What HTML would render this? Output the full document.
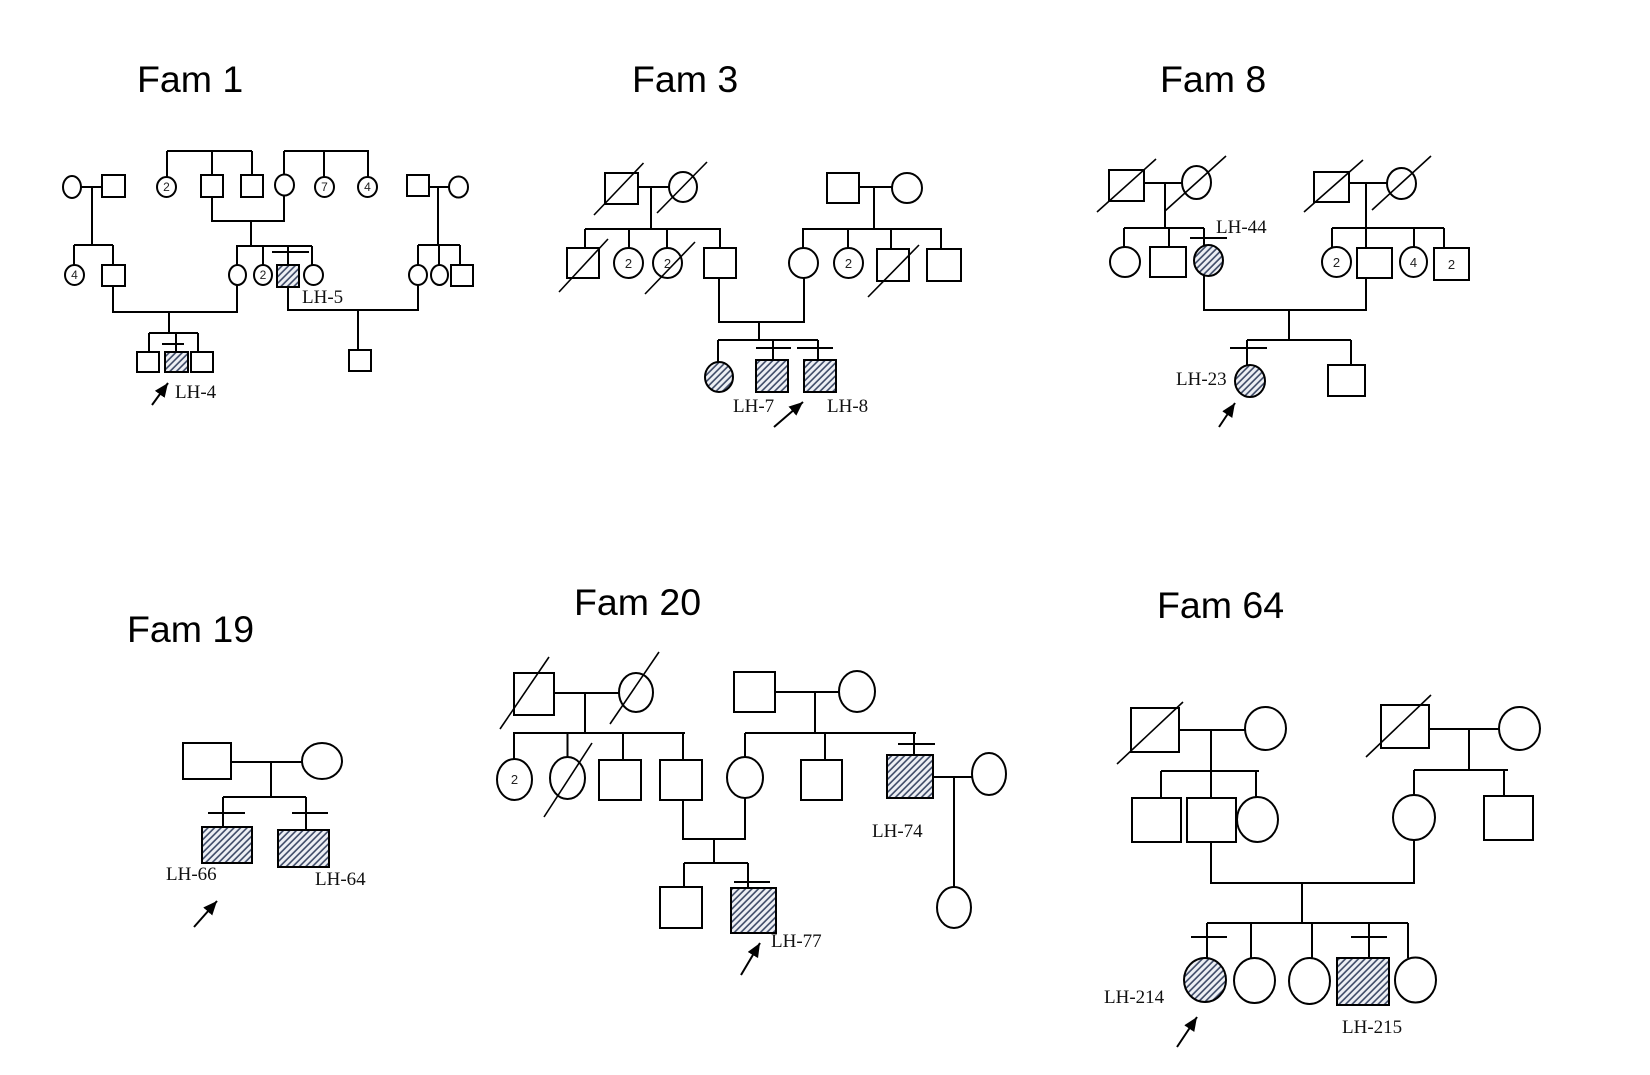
<!DOCTYPE html>
<html><head><meta charset="utf-8"><style>
html,body{margin:0;padding:0;background:#fff;}
svg{display:block;}
.t{font-family:"Liberation Sans",Arial,sans-serif;font-size:37.5px;fill:#000;}
.l{font-family:"Liberation Serif","Times New Roman",serif;font-size:19px;fill:#111;}
.n{font-family:"Liberation Sans",Arial,sans-serif;font-size:12px;fill:#222;text-anchor:middle;}
.n2{font-family:"Liberation Sans",Arial,sans-serif;font-size:13px;fill:#222;text-anchor:middle;}
</style></head><body>
<svg width="1650" height="1075" viewBox="0 0 1650 1075" xmlns="http://www.w3.org/2000/svg">
<defs>
<pattern id="h" patternUnits="userSpaceOnUse" width="4.6" height="4.6" patternTransform="rotate(45)">
<rect width="4.6" height="4.6" fill="#eef0f5"/>
<line x1="1" y1="0" x2="1" y2="4.6" stroke="#3b4865" stroke-width="1.6"/>
</pattern>
<marker id="a" markerUnits="userSpaceOnUse" markerWidth="16" markerHeight="14" refX="14" refY="6" orient="auto">
<path d="M0,0 L14,6 L0,12 Z" fill="#000"/>
</marker>
</defs>
<rect width="1650" height="1075" fill="#fff"/>

<!-- titles -->
<text class="t" x="137" y="92">Fam 1</text>
<text class="t" x="632" y="92">Fam 3</text>
<text class="t" x="1160" y="92">Fam 8</text>
<text class="t" x="127" y="642">Fam 19</text>
<text class="t" x="574" y="615">Fam 20</text>
<text class="t" x="1157" y="618">Fam 64</text>

<g stroke="#000" stroke-width="2" fill="none">
<!-- ================= FAM 1 ================= -->
<line x1="81" y1="187" x2="102" y2="187"/>
<line x1="92" y1="187" x2="92" y2="245"/>
<line x1="74" y1="245" x2="113" y2="245"/>
<line x1="74" y1="245" x2="74" y2="265"/>
<line x1="113" y1="245" x2="113" y2="265"/>
<line x1="167" y1="151" x2="252" y2="151"/>
<line x1="167" y1="151" x2="167" y2="177"/>
<line x1="212" y1="151" x2="212" y2="175"/>
<line x1="252" y1="151" x2="252" y2="175"/>
<line x1="284" y1="151" x2="369" y2="151"/>
<line x1="284" y1="151" x2="284" y2="175"/>
<line x1="324" y1="151" x2="324" y2="177"/>
<line x1="368" y1="151" x2="368" y2="177"/>
<polyline points="212,197 212,221 284,221 284,195"/>
<line x1="251" y1="221" x2="251" y2="246"/>
<line x1="236" y1="246" x2="312" y2="246"/>
<line x1="237" y1="246" x2="237" y2="265"/>
<line x1="263" y1="246" x2="263" y2="265"/>
<line x1="288" y1="246" x2="288" y2="265"/>
<line x1="312" y1="246" x2="312" y2="265"/>
<line x1="272" y1="252" x2="309" y2="252"/>
<line x1="429" y1="187" x2="449" y2="187"/>
<line x1="438" y1="187" x2="438" y2="245"/>
<line x1="418" y1="245" x2="460" y2="245"/>
<line x1="418" y1="245" x2="418" y2="265"/>
<line x1="439" y1="245" x2="439" y2="265"/>
<line x1="460" y1="245" x2="460" y2="265"/>
<polyline points="113,286 113,312 237,312 237,285"/>
<line x1="169" y1="312" x2="169" y2="333"/>
<line x1="149" y1="333" x2="198" y2="333"/>
<line x1="149" y1="333" x2="149" y2="352"/>
<line x1="176" y1="333" x2="176" y2="352"/>
<line x1="198" y1="333" x2="198" y2="352"/>
<line x1="162" y1="344" x2="184" y2="344"/>
<polyline points="288,287 288,310 418,310 418,285"/>
<line x1="358" y1="310" x2="358" y2="350"/>
<line x1="152" y1="405" x2="168" y2="383" marker-end="url(#a)"/>

<g fill="#fff">
<ellipse cx="72" cy="187" rx="9" ry="11"/>
<rect x="102" y="175" width="23" height="22"/>
<ellipse cx="74.5" cy="275" rx="9.5" ry="10"/>
<rect x="102" y="265" width="23" height="21"/>
<ellipse cx="166.5" cy="187" rx="9.5" ry="10"/>
<rect x="201" y="175" width="22" height="22"/>
<rect x="241" y="175" width="22" height="22"/>
<ellipse cx="284.5" cy="185" rx="9.5" ry="10.5"/>
<ellipse cx="324.5" cy="187" rx="9.5" ry="10"/>
<ellipse cx="367.5" cy="187" rx="9.5" ry="10"/>
<ellipse cx="237.5" cy="275" rx="8.5" ry="10"/>
<ellipse cx="263" cy="275" rx="9" ry="10"/>
<rect x="277" y="265" width="22" height="22" fill="url(#h)"/>
<ellipse cx="313.5" cy="275" rx="9.5" ry="10"/>
<rect x="407" y="175" width="22" height="21"/>
<ellipse cx="458.5" cy="187" rx="9.5" ry="10.5"/>
<ellipse cx="418" cy="275" rx="9" ry="10"/>
<ellipse cx="439.5" cy="275" rx="8.5" ry="10"/>
<rect x="451" y="265" width="22" height="21"/>
<rect x="137" y="352" width="22" height="20"/>
<rect x="165" y="352" width="23" height="20" fill="url(#h)"/>
<rect x="191" y="352" width="22" height="20"/>
<rect x="349" y="350" width="22" height="21"/>
</g>

<!-- ================= FAM 3 ================= -->
<line x1="638" y1="187" x2="669" y2="187"/>
<line x1="651" y1="187" x2="651" y2="229"/>
<line x1="585" y1="229" x2="721" y2="229"/>
<line x1="585" y1="229" x2="585" y2="248"/>
<line x1="629" y1="229" x2="629" y2="248"/>
<line x1="667" y1="229" x2="667" y2="248"/>
<line x1="720" y1="229" x2="720" y2="248"/>
<line x1="859" y1="187" x2="892" y2="187"/>
<line x1="874" y1="187" x2="874" y2="229"/>
<line x1="802" y1="229" x2="942" y2="229"/>
<line x1="803" y1="229" x2="803" y2="248"/>
<line x1="848" y1="229" x2="848" y2="248"/>
<line x1="891" y1="229" x2="891" y2="249"/>
<line x1="941" y1="229" x2="941" y2="249"/>
<polyline points="719,278 719,322 804,322 804,278"/>
<line x1="759" y1="322" x2="759" y2="340"/>
<line x1="718" y1="340" x2="818" y2="340"/>
<line x1="718" y1="340" x2="718" y2="362"/>
<line x1="773" y1="340" x2="773" y2="360"/>
<line x1="818" y1="340" x2="818" y2="360"/>
<line x1="756" y1="348" x2="791" y2="348"/>
<line x1="797" y1="348" x2="833" y2="348"/>
<line x1="774" y1="427" x2="803" y2="402" marker-end="url(#a)"/>

<g fill="#fff">
<rect x="605" y="173" width="33" height="31"/>
<ellipse cx="683" cy="187" rx="14" ry="15"/>
<rect x="567" y="248" width="32" height="30"/>
<ellipse cx="628.5" cy="263" rx="14.5" ry="15"/>
<ellipse cx="667.5" cy="263" rx="14.5" ry="15"/>
<rect x="704" y="248" width="32" height="30"/>
<rect x="827" y="173" width="32" height="30"/>
<ellipse cx="907" cy="188" rx="15" ry="15"/>
<ellipse cx="803.5" cy="263" rx="14.5" ry="15"/>
<ellipse cx="848.5" cy="263" rx="14.5" ry="15"/>
<rect x="877" y="249" width="32" height="32"/>
<rect x="927" y="249" width="34" height="32"/>
<ellipse cx="719" cy="377" rx="14" ry="15" fill="url(#h)"/>
<rect x="756" y="360" width="32" height="32" fill="url(#h)"/>
<rect x="804" y="360" width="32" height="32" fill="url(#h)"/>
</g>
<g stroke-width="1.6">
<line x1="594" y1="215" x2="643.5" y2="163"/>
<line x1="657" y1="213" x2="707" y2="162"/>
<line x1="559" y1="292" x2="608" y2="239"/>
<line x1="645" y1="294" x2="695" y2="242"/>
<line x1="868" y1="297" x2="919" y2="245"/>
</g>

<!-- ================= FAM 8 ================= -->
<line x1="1144" y1="183" x2="1182" y2="183"/>
<line x1="1165" y1="183" x2="1165" y2="228"/>
<line x1="1124" y1="228" x2="1204" y2="228"/>
<line x1="1124" y1="228" x2="1124" y2="247"/>
<line x1="1169" y1="228" x2="1169" y2="247"/>
<line x1="1204" y1="228" x2="1204" y2="245"/>
<line x1="1190" y1="238" x2="1227" y2="238"/>
<line x1="1349" y1="183" x2="1387" y2="183"/>
<line x1="1366" y1="183" x2="1366" y2="228"/>
<line x1="1332" y1="228" x2="1444" y2="228"/>
<line x1="1332" y1="228" x2="1332" y2="247"/>
<line x1="1366" y1="228" x2="1366" y2="248"/>
<line x1="1414" y1="228" x2="1414" y2="247"/>
<line x1="1444" y1="228" x2="1444" y2="248"/>
<polyline points="1204,276 1204,310 1366,310 1366,278"/>
<line x1="1289" y1="310" x2="1289" y2="340"/>
<line x1="1247" y1="340" x2="1351" y2="340"/>
<line x1="1247" y1="340" x2="1247" y2="365"/>
<line x1="1351" y1="340" x2="1351" y2="365"/>
<line x1="1230" y1="348" x2="1267" y2="348"/>
<line x1="1219" y1="427" x2="1235" y2="403" marker-end="url(#a)"/>

<g fill="#fff">
<rect x="1109" y="170" width="35" height="31"/>
<ellipse cx="1196.5" cy="182.5" rx="14.5" ry="16.5"/>
<ellipse cx="1125" cy="262" rx="15" ry="15"/>
<rect x="1150" y="247" width="36" height="30"/>
<ellipse cx="1208.5" cy="260.5" rx="14.5" ry="15.5" fill="url(#h)"/>
<rect x="1314" y="172" width="35" height="30"/>
<ellipse cx="1401.5" cy="183.5" rx="14.5" ry="15.5"/>
<ellipse cx="1336.5" cy="262" rx="14.5" ry="15"/>
<rect x="1357" y="248" width="35" height="30"/>
<ellipse cx="1413.5" cy="262" rx="13.5" ry="15"/>
<rect x="1434" y="248" width="35" height="32"/>
<ellipse cx="1250" cy="381" rx="15" ry="16" fill="url(#h)"/>
<rect x="1328" y="365" width="37" height="31"/>
</g>
<g stroke-width="1.6">
<line x1="1097" y1="212" x2="1156" y2="159"/>
<line x1="1165" y1="211" x2="1226" y2="156"/>
<line x1="1304" y1="212" x2="1363" y2="160"/>
<line x1="1372" y1="210" x2="1431" y2="156"/>
</g>

<!-- ================= FAM 19 ================= -->
<line x1="231" y1="762" x2="302" y2="762"/>
<line x1="271" y1="762" x2="271" y2="797"/>
<line x1="223" y1="797" x2="306" y2="797"/>
<line x1="223" y1="797" x2="223" y2="827"/>
<line x1="306" y1="797" x2="306" y2="830"/>
<line x1="208" y1="813" x2="245" y2="813"/>
<line x1="292" y1="813" x2="328" y2="813"/>
<line x1="194" y1="927" x2="217" y2="901" marker-end="url(#a)"/>
<g fill="#fff">
<rect x="183" y="743" width="48" height="36"/>
<ellipse cx="322" cy="761" rx="20" ry="18"/>
<rect x="202" y="827" width="50" height="36" fill="url(#h)"/>
<rect x="278" y="830" width="51" height="37" fill="url(#h)"/>
</g>

<!-- ================= FAM 20 ================= -->
<line x1="554" y1="693" x2="619" y2="693"/>
<line x1="585" y1="693" x2="585" y2="733"/>
<line x1="513" y1="733" x2="685" y2="733"/>
<line x1="514" y1="733" x2="514" y2="759"/>
<line x1="567.5" y1="733" x2="567.5" y2="757"/>
<line x1="623" y1="733" x2="623" y2="760"/>
<line x1="683" y1="733" x2="683" y2="760"/>
<line x1="775" y1="692" x2="839" y2="692"/>
<line x1="815" y1="692" x2="815" y2="733"/>
<line x1="745" y1="733" x2="916" y2="733"/>
<line x1="745" y1="733" x2="745" y2="757"/>
<line x1="825" y1="733" x2="825" y2="760"/>
<line x1="914" y1="733" x2="914" y2="755"/>
<line x1="898" y1="744" x2="935" y2="744"/>
<line x1="933" y1="777" x2="972" y2="777"/>
<line x1="954" y1="777" x2="954" y2="887"/>
<polyline points="683,800 683,839 745,839 745,798"/>
<line x1="714" y1="839" x2="714" y2="863"/>
<line x1="684" y1="863" x2="748" y2="863"/>
<line x1="684" y1="863" x2="684" y2="887"/>
<line x1="748" y1="863" x2="748" y2="888"/>
<line x1="734" y1="882" x2="770" y2="882"/>
<line x1="741" y1="975" x2="760" y2="943" marker-end="url(#a)"/>
<g fill="#fff">
<rect x="514" y="673" width="40" height="42"/>
<ellipse cx="636" cy="692.5" rx="17" ry="19.5"/>
<ellipse cx="514.5" cy="779.5" rx="17.5" ry="20.5"/>
<ellipse cx="567.5" cy="778" rx="17.5" ry="21"/>
<rect x="599" y="760" width="42" height="40"/>
<rect x="660" y="760" width="42" height="40"/>
<rect x="734" y="672" width="41" height="40"/>
<ellipse cx="857" cy="691.5" rx="18" ry="20.5"/>
<ellipse cx="745" cy="777.5" rx="18" ry="20.5"/>
<rect x="801" y="760" width="41" height="40"/>
<rect x="887" y="755" width="46" height="43" fill="url(#h)"/>
<ellipse cx="989" cy="774" rx="17" ry="21"/>
<ellipse cx="954" cy="907.5" rx="17" ry="20.5"/>
<rect x="660" y="887" width="42" height="41"/>
<rect x="731" y="888" width="45" height="45" fill="url(#h)"/>
</g>
<g stroke-width="1.6">
<line x1="500" y1="729" x2="549" y2="657"/>
<line x1="610" y1="724" x2="659" y2="652"/>
<line x1="544" y1="817" x2="592" y2="743"/>
</g>

<!-- ================= FAM 64 ================= -->
<line x1="1179" y1="730" x2="1245" y2="730"/>
<line x1="1211" y1="730" x2="1211" y2="771"/>
<line x1="1161" y1="771" x2="1259" y2="771"/>
<line x1="1161" y1="771" x2="1161" y2="798"/>
<line x1="1211" y1="771" x2="1211" y2="798"/>
<line x1="1256" y1="771" x2="1256" y2="797"/>
<line x1="1429" y1="729" x2="1499" y2="729"/>
<line x1="1469" y1="729" x2="1469" y2="770"/>
<line x1="1414" y1="770" x2="1508" y2="770"/>
<line x1="1414" y1="770" x2="1414" y2="795"/>
<line x1="1504" y1="770" x2="1504" y2="796"/>
<polyline points="1211,842 1211,883 1414,883 1414,840"/>
<line x1="1302" y1="883" x2="1302" y2="923"/>
<line x1="1207" y1="923" x2="1408" y2="923"/>
<line x1="1207" y1="923" x2="1207" y2="958"/>
<line x1="1251" y1="923" x2="1251" y2="958"/>
<line x1="1312" y1="923" x2="1312" y2="958"/>
<line x1="1369" y1="923" x2="1369" y2="958"/>
<line x1="1408" y1="923" x2="1408" y2="958"/>
<line x1="1191" y1="937" x2="1227" y2="937"/>
<line x1="1351" y1="937" x2="1387" y2="937"/>
<line x1="1177" y1="1047" x2="1197" y2="1017" marker-end="url(#a)"/>
<g fill="#fff">
<rect x="1131" y="708" width="48" height="44"/>
<ellipse cx="1265.5" cy="728.5" rx="20.5" ry="21.5"/>
<rect x="1132" y="798" width="49" height="44"/>
<rect x="1187" y="798" width="49" height="44"/>
<ellipse cx="1257.5" cy="819.5" rx="20.5" ry="22.5"/>
<rect x="1381" y="705" width="48" height="43"/>
<ellipse cx="1519.5" cy="728.5" rx="20.5" ry="21.5"/>
<ellipse cx="1414" cy="817.5" rx="21" ry="22.5"/>
<rect x="1484" y="796" width="49" height="44"/>
<ellipse cx="1205" cy="980" rx="21" ry="22" fill="url(#h)"/>
<ellipse cx="1254.5" cy="980.5" rx="20.5" ry="22.5"/>
<ellipse cx="1309.5" cy="981" rx="20.5" ry="23"/>
<rect x="1337" y="958" width="52" height="47" fill="url(#h)"/>
<ellipse cx="1415.5" cy="980" rx="20.5" ry="22.5"/>
</g>
<g stroke-width="1.6">
<line x1="1117" y1="764" x2="1183" y2="702"/>
<line x1="1366" y1="757" x2="1431" y2="695"/>
</g>
</g>

<!-- numbers inside symbols -->
<text class="n" x="74.5" y="279">4</text>
<text class="n" x="166.5" y="191">2</text>
<text class="n" x="324.5" y="191">7</text>
<text class="n" x="367.5" y="191">4</text>
<text class="n" x="263" y="279">2</text>
<text class="n2" x="628.5" y="268">2</text>
<text class="n2" x="667.5" y="268">2</text>
<text class="n2" x="848.5" y="268">2</text>
<text class="n2" x="1336.5" y="267">2</text>
<text class="n2" x="1413.5" y="267">4</text>
<text class="n2" x="1451.5" y="269">2</text>
<text class="n2" x="514.5" y="784">2</text>

<!-- labels -->
<text class="l" x="302" y="303">LH-5</text>
<text class="l" x="175" y="398">LH-4</text>
<text class="l" x="733" y="412">LH-7</text>
<text class="l" x="827" y="412">LH-8</text>
<text class="l" x="1216" y="233">LH-44</text>
<text class="l" x="1176" y="385">LH-23</text>
<text class="l" x="166" y="880">LH-66</text>
<text class="l" x="315" y="885">LH-64</text>
<text class="l" x="872" y="837">LH-74</text>
<text class="l" x="771" y="947">LH-77</text>
<text class="l" x="1104" y="1003">LH-214</text>
<text class="l" x="1342" y="1033">LH-215</text>
</svg>
</body></html>
